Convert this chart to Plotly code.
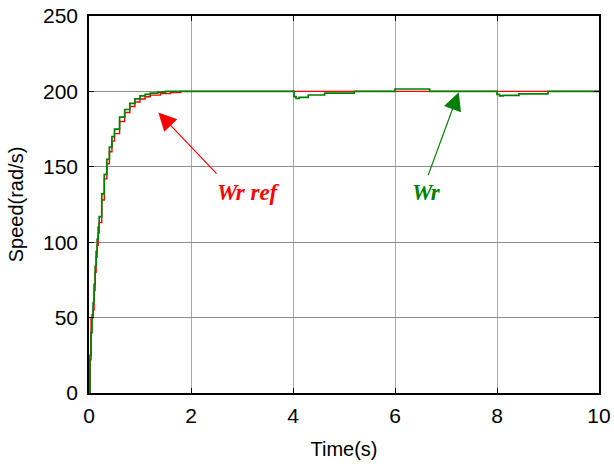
import plotly.graph_objects as go

# Reference speed Wr ref (rad/s) vs time (s)
t_ref = [0.0, 0.02, 0.04, 0.06, 0.08, 0.10, 0.12, 0.14, 0.16, 0.18, 0.20, 0.25, 0.30,
         0.35, 0.40, 0.45, 0.50, 0.60, 0.70, 0.80, 0.90, 1.00, 1.10, 1.20, 1.40, 1.60,
         1.80, 10.0]
w_ref = [0, 22, 50, 52, 55, 68, 80, 90, 98, 106, 113, 128, 142,
         152, 160, 167, 172, 180, 186, 190, 193, 195, 196.5, 197.5, 198.5, 199.2,
         200, 200]

# Measured rotor speed Wr (rad/s) vs time (s)
t_wr = [0.0, 0.02, 0.04, 0.06, 0.08, 0.10, 0.12, 0.14, 0.16, 0.18, 0.20, 0.25, 0.30,
        0.35, 0.40, 0.45, 0.50, 0.60, 0.70, 0.80, 0.90, 1.00, 1.10, 1.20, 1.35, 1.50,
        4.00, 4.02, 4.06, 4.12, 4.30, 4.62, 5.20, 6.00, 6.68, 8.00, 8.05, 8.12, 8.43,
        9.00, 10.0]
w_wr = [0, 25, 40, 50, 60, 72, 84, 94, 102, 110, 117, 132, 145,
        155, 163, 170, 175, 183, 188, 192, 195, 197, 198, 198.8, 199.5, 200,
        200, 196.5, 195.3, 196, 197.6, 198.9, 200, 201.6, 200, 198, 197, 197.4, 198.3,
        200, 200]

x_ticks = [0, 2, 4, 6, 8, 10]
y_ticks = [0, 50, 100, 150, 200, 250]

axis_font = "Liberation Sans, Arial, sans-serif"

fig = go.Figure()
fig.add_trace(go.Scatter(x=t_ref, y=w_ref, mode="lines", line_shape="hv",
                         line=dict(color="#ff0000", width=1.4), name="Wr ref"))
fig.add_trace(go.Scatter(x=t_wr, y=w_wr, mode="lines", line_shape="hv",
                         line=dict(color="#008000", width=1.7), name="Wr"))

label_font = dict(family="Liberation Serif", size=23)

# Arrow + label for the reference speed
fig.add_annotation(x=1.36, y=186, ax=2.53, ay=144.5, xref="x", yref="y",
                   axref="x", ayref="y", text="", showarrow=True,
                   arrowhead=2, arrowsize=3, arrowwidth=1.2, arrowcolor="#ff0000")
fig.add_annotation(x=3.12, y=133, xref="x", yref="y", showarrow=False,
                   text="<b><i>Wr ref</i></b>", font=dict(color="#ff0000", **label_font))

# Arrow + label for the measured speed
fig.add_annotation(x=7.25, y=199.5, ax=6.64, ay=143.5, xref="x", yref="y",
                   axref="x", ayref="y", text="", showarrow=True,
                   arrowhead=2, arrowsize=3, arrowwidth=1.2, arrowcolor="#008000")
fig.add_annotation(x=6.62, y=133, xref="x", yref="y", showarrow=False,
                   text="<b><i>Wr</i></b>", font=dict(color="#008000", **label_font))

axis_common = dict(showline=True, linecolor="black", linewidth=1.5, mirror="ticks",
                   ticks="inside", ticklen=5, tickcolor="black", tickwidth=1,
                   zeroline=False, automargin=False,
                   tickfont=dict(family=axis_font, size=21, color="black"))

fig.update_xaxes(range=[0, 10], tickvals=x_ticks, showgrid=True, gridcolor="#a8a8a8",
                 gridwidth=1, ticklabelstandoff=3,
                 title=dict(text="Time(s)", standoff=16,
                            font=dict(family=axis_font, size=20, color="black")),
                 **axis_common)
fig.update_yaxes(range=[0, 250], tickvals=y_ticks, showgrid=True, gridcolor="#8c8c8c",
                 gridwidth=1, ticklabelstandoff=5,
                 title=dict(text="Speed(rad/s)", standoff=14,
                            font=dict(family=axis_font, size=20, color="black")),
                 **axis_common)

fig.update_layout(width=614, height=470, margin=dict(l=89, r=15, t=16, b=77),
                  plot_bgcolor="white", paper_bgcolor="white", showlegend=False)

fig.write_html("out.html")
